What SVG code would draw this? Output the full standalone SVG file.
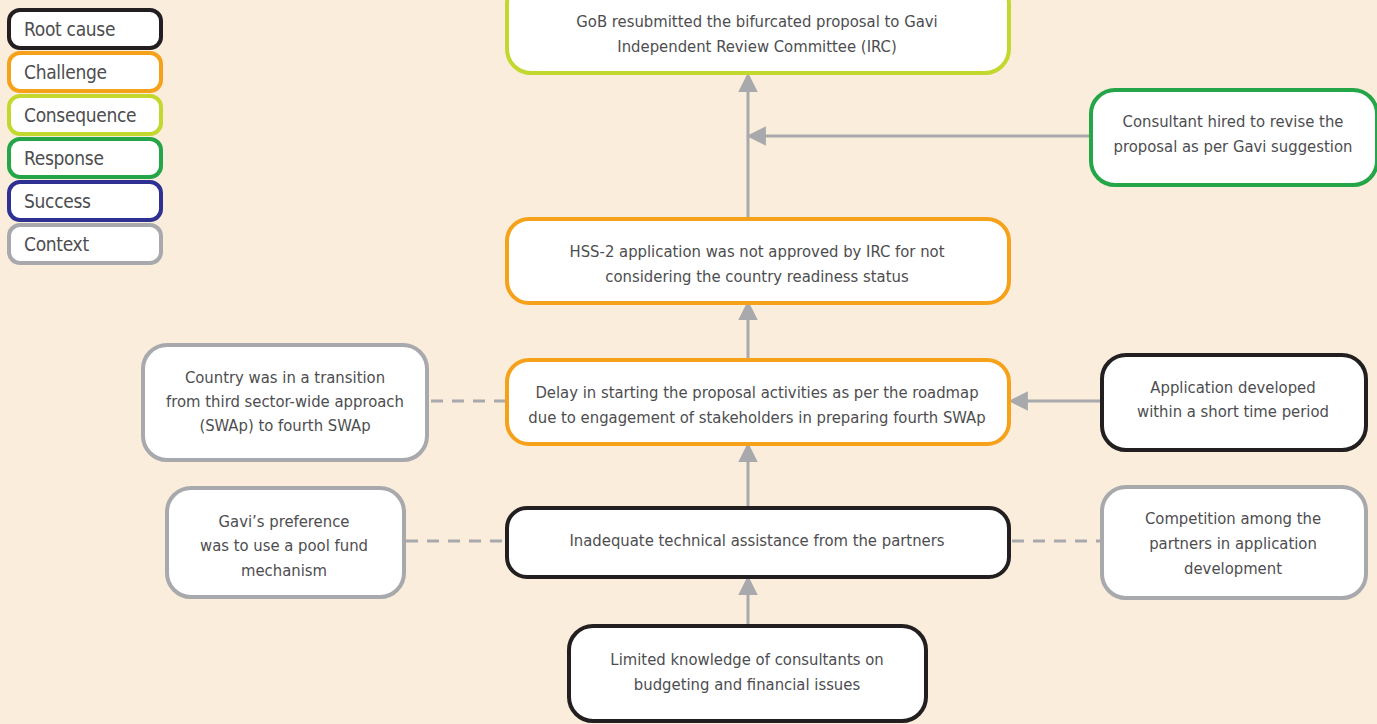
<svg xmlns="http://www.w3.org/2000/svg" width="1377" height="724" viewBox="0 0 1377 724">
<defs>
<style>
.box{fill:#fff;stroke-width:4}
.rc{stroke:#231F20}.ch{stroke:#F6A11A}.cq{stroke:#C3D82E}.rs{stroke:#24A548}.sc{stroke:#2E3192}.cx{stroke:#A7A9AC}
text{font-family:"DejaVu Sans Condensed","Liberation Sans Narrow","Liberation Sans",sans-serif;fill:#4D4D4F;font-size:16.5px}
.c{text-anchor:middle}
.lg{font-size:19px;letter-spacing:-0.3px}
.ln{stroke:#A7A9AC;stroke-width:3;fill:none}
.dash{stroke-dasharray:12 9}
</style>
<marker id="ah" viewBox="0 0 10 10" refX="2" refY="5" markerWidth="6.5" markerHeight="6.5" markerUnits="strokeWidth" orient="auto">
<path d="M0,0 L10,5 L0,10 z" fill="#A7A9AC"/>
</marker>
</defs>
<rect width="1377" height="724" fill="#FAEDDC"/>
<g id="legend">
<g id="lg-root"><rect class="box rc" x="9" y="10" width="152" height="38" rx="11"/><text class="lg" x="24" y="36">Root cause</text></g>
<g id="lg-challenge"><rect class="box ch" x="9" y="53" width="152" height="38" rx="11"/><text class="lg" x="24" y="79">Challenge</text></g>
<g id="lg-consequence"><rect class="box cq" x="9" y="96" width="152" height="38" rx="11"/><text class="lg" x="24" y="122">Consequence</text></g>
<g id="lg-response"><rect class="box rs" x="9" y="139" width="152" height="38" rx="11"/><text class="lg" x="24" y="165">Response</text></g>
<g id="lg-success"><rect class="box sc" x="9" y="182" width="152" height="38" rx="11"/><text class="lg" x="24" y="208">Success</text></g>
<g id="lg-context"><rect class="box cx" x="9" y="225" width="152" height="38" rx="11"/><text class="lg" x="24" y="251">Context</text></g>
</g>
<g id="connectors">
<line class="ln" x1="748" y1="217" x2="748" y2="88" marker-end="url(#ah)"/>
<line class="ln" x1="1090" y1="136" x2="762" y2="136" marker-end="url(#ah)"/>
<line class="ln" x1="748" y1="358" x2="748" y2="316" marker-end="url(#ah)"/>
<line class="ln" x1="1101" y1="401" x2="1024" y2="401" marker-end="url(#ah)"/>
<line class="ln" x1="748" y1="506" x2="748" y2="458" marker-end="url(#ah)"/>
<line class="ln" x1="748" y1="624" x2="748" y2="591" marker-end="url(#ah)"/>
<line class="ln dash" x1="431" y1="401" x2="506" y2="401"/>
<line class="ln dash" x1="406" y1="541" x2="506" y2="541"/>
<line class="ln dash" x1="1012" y1="541" x2="1101" y2="541"/>
</g>
<g id="n-gob"><rect class="box cq" x="507" y="-20" width="502" height="93" rx="24"/><text class="c" x="757" y="27">GoB resubmitted the bifurcated proposal to Gavi</text><text class="c" x="757" y="52">Independent Review Committee (IRC)</text></g>
<g id="n-consultant"><rect class="box rs" x="1091" y="90" width="286" height="95" rx="24"/><text class="c" x="1233" y="127">Consultant hired to revise the</text><text class="c" x="1233" y="152">proposal as per Gavi suggestion</text></g>
<g id="n-hss"><rect class="box ch" x="507" y="219" width="502" height="84" rx="22"/><text class="c" x="757" y="257">HSS-2 application was not approved by IRC for not</text><text class="c" x="757" y="282">considering the country readiness status</text></g>
<g id="n-delay"><rect class="box ch" x="507" y="360" width="502" height="84" rx="22"/><text class="c" x="757" y="398">Delay in starting the proposal activities as per the roadmap</text><text class="c" x="757" y="423">due to engagement of stakeholders in preparing fourth SWAp</text></g>
<g id="n-country"><rect class="box cx" x="143" y="345" width="284" height="115" rx="24"/><text class="c" x="285" y="383">Country was in a transition</text><text class="c" x="285" y="407">from third sector-wide approach</text><text class="c" x="285" y="431">(SWAp) to fourth SWAp</text></g>
<g id="n-application"><rect class="box rc" x="1102" y="355" width="264" height="95" rx="24"/><text class="c" x="1233" y="393">Application developed</text><text class="c" x="1233" y="417">within a short time period</text></g>
<g id="n-inadequate"><rect class="box rc" x="507" y="508" width="502" height="69" rx="20"/><text class="c" x="757" y="546">Inadequate technical assistance from the partners</text></g>
<g id="n-gavi"><rect class="box cx" x="167" y="488" width="237" height="109" rx="24"/><text class="c" x="284" y="527">Gavi’s preference</text><text class="c" x="284" y="551">was to use a pool fund</text><text class="c" x="284" y="576">mechanism</text></g>
<g id="n-competition"><rect class="box cx" x="1102" y="487" width="264" height="111" rx="24"/><text class="c" x="1233" y="524">Competition among the</text><text class="c" x="1233" y="549">partners in application</text><text class="c" x="1233" y="574">development</text></g>
<g id="n-limited"><rect class="box rc" x="569" y="626" width="357" height="95" rx="24"/><text class="c" x="747" y="665">Limited knowledge of consultants on</text><text class="c" x="747" y="690">budgeting and financial issues</text></g>
</svg>
